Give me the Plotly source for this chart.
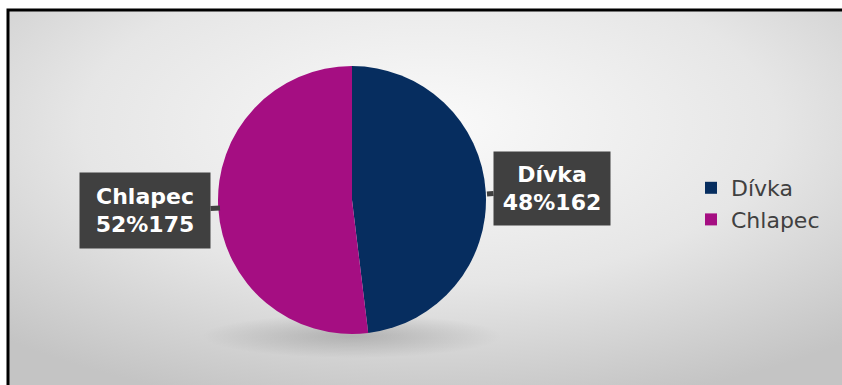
import base64
import plotly.graph_objects as go

labels = ["Dívka", "Chlapec"]
values = [162, 175]
colors = ["#062d5f", "#a50e82"]

total = sum(values)
pcts = [round(v / total * 100) for v in values]

W, H = 842, 385

svg = f'''<svg xmlns="http://www.w3.org/2000/svg" width="{W}" height="{H}" viewBox="0 0 {W} {H}">
<defs><radialGradient id="g" cx="0.5" cy="0.3" r="0.75" fx="0.5" fy="0.3">
<stop offset="0" stop-color="#fafafa"/><stop offset="0.55" stop-color="#e6e6e6"/><stop offset="1" stop-color="#c4c4c4"/>
</radialGradient>
<radialGradient id="s" cx="0.5" cy="0.5" r="0.5">
<stop offset="0" stop-color="#000" stop-opacity="0.18"/><stop offset="1" stop-color="#000" stop-opacity="0"/>
</radialGradient></defs>
<rect width="{W}" height="{H}" fill="white"/>
<rect x="8" y="10" width="{W}" height="{H}" fill="url(#g)"/>
<ellipse cx="352" cy="336" rx="150" ry="22" fill="url(#s)"/>
</svg>'''
bg = "data:image/svg+xml;base64," + base64.b64encode(svg.encode()).decode()

fig = go.Figure(go.Pie(
    labels=labels, values=values, sort=False, direction="clockwise", rotation=0,
    marker=dict(colors=colors), textinfo="none", hoverinfo="label+value+percent",
    domain=dict(x=[(352 - 134) / W, (352 + 134) / W], y=[(185 - 134) / H, (185 + 134) / H]),
))

# (box center x, box center y, pointer tip x, pointer tip y, box w, box h) in pixels
boxes = [(552, 189, 487, 194, 116, 73), (145, 211, 220, 208, 130, 75)]
for (cx, cy, tx, ty, bw, bh), lab, v, p in zip(boxes, labels, values, pcts):
    fig.add_annotation(
        x=tx / W, y=1 - ty / H, xref="paper", yref="paper",
        ax=cx - tx, ay=cy - ty, axref="pixel", ayref="pixel",
        text=f"<b>{lab}<br>{p}%{v}</b>", showarrow=True,
        arrowhead=0, arrowwidth=5, arrowcolor="#404040", standoff=0, startstandoff=0,
        font=dict(family="DejaVu Sans, sans-serif", size=22, color="white"),
        bgcolor="#404040", borderpad=0, align="center", valign="middle",
        width=bw, height=bh,
    )

fig.add_shape(type="rect", xref="paper", yref="paper",
              x0=8 / W, x1=1.2, y0=-0.2, y1=1 - 10 / H,
              line=dict(color="black", width=3), fillcolor="rgba(0,0,0,0)")

fig.update_layout(
    width=W, height=H, margin=dict(l=0, r=0, t=0, b=0),
    paper_bgcolor="white", plot_bgcolor="rgba(0,0,0,0)",
    images=[dict(source=bg, xref="paper", yref="paper", x=0, y=1, sizex=1, sizey=1,
                 sizing="stretch", layer="below", xanchor="left", yanchor="top")],
    legend=dict(x=691 / W, y=1 - 204 / H, xanchor="left", yanchor="middle",
                font=dict(family="DejaVu Sans, sans-serif", size=22, color="#404040"),
                bgcolor="rgba(0,0,0,0)", traceorder="normal", itemwidth=30),
)

fig.write_html("out.html")
